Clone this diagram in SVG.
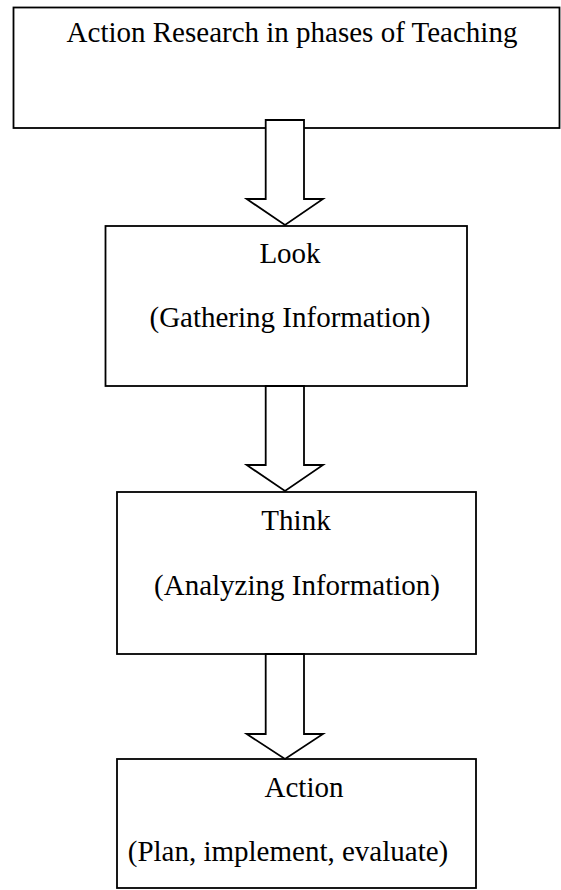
<svg xmlns="http://www.w3.org/2000/svg" width="561" height="890" viewBox="0 0 561 890">
<style>
.box{fill:#fff;stroke:#000;stroke-width:1.8}
.arr{fill:#fff;stroke:#000;stroke-width:1.8;stroke-linejoin:miter}
.t{font-family:"Liberation Serif","Times New Roman",serif;font-size:29px;fill:#000;text-anchor:middle}
</style>
<rect width="561" height="890" fill="#fff"/>
<g id="node-title">
<rect class="box" x="13.5" y="7.5" width="546" height="120.5"/>
<text class="t" x="292" y="42">Action Research in phases of Teaching</text>
</g>
<g id="node-look">
<rect class="box" x="105.5" y="226" width="361.5" height="160"/>
<text class="t" x="290" y="263">Look</text>
<text class="t" x="290" y="327">(Gathering Information)</text>
</g>
<g id="node-think">
<rect class="box" x="117" y="492" width="359" height="162"/>
<text class="t" x="296" y="530">Think</text>
<text class="t" x="297" y="595">(Analyzing Information)</text>
</g>
<g id="node-action">
<rect class="box" x="117" y="759" width="359" height="129"/>
<text class="t" x="304" y="797">Action</text>
<text class="t" x="288" y="861">(Plan, implement, evaluate)</text>
</g>
<g id="connectors">
<path class="arr" d="M265.7,120 H304 V199 H323 L285,225 L246.7,199 H265.7 Z"/>
<path class="arr" d="M265.7,386 H304 V465 H323 L285,491 L246.7,465 H265.7 Z"/>
<path class="arr" d="M265.7,654 H304 V734 H323 L285,759 L246.7,734 H265.7 Z"/>
</g>
</svg>
